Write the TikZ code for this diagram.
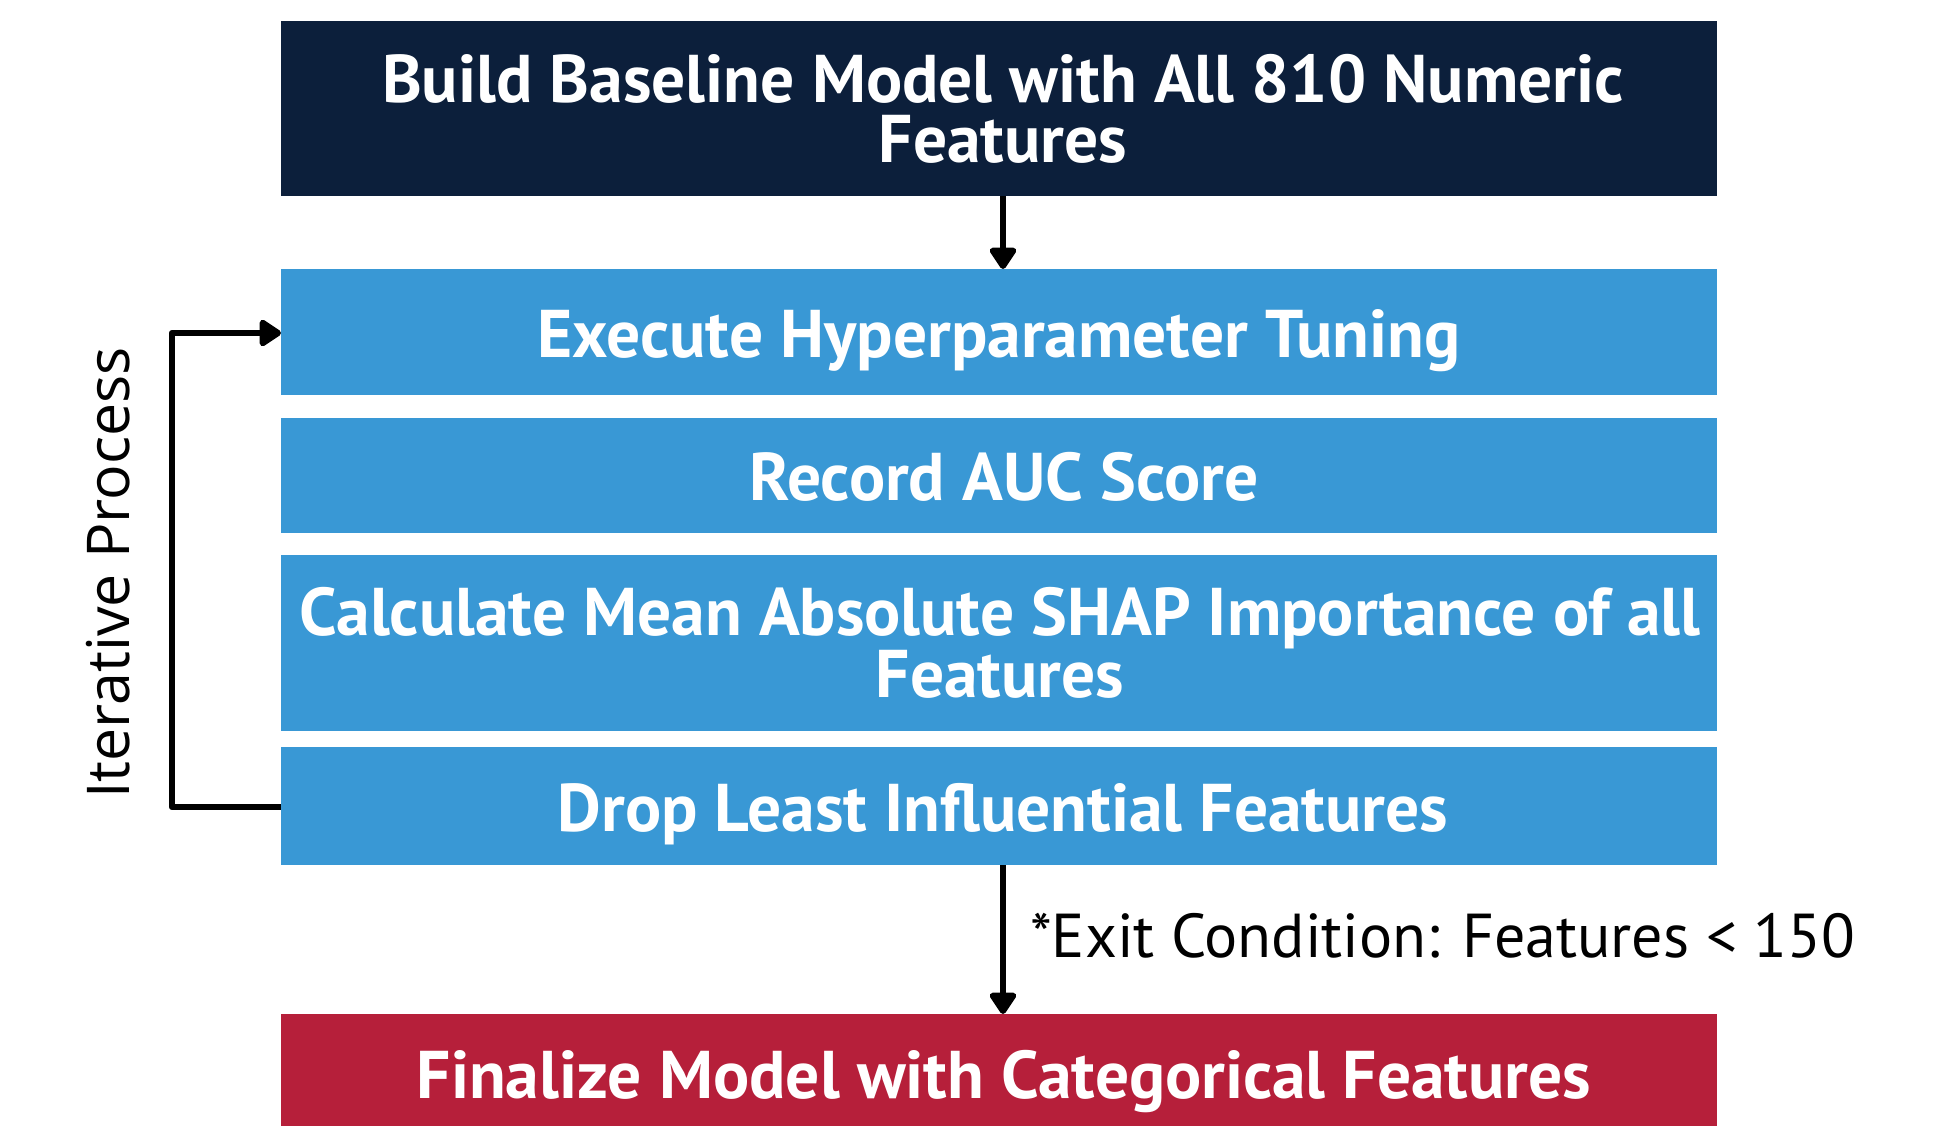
\documentclass[tikz,border=0pt]{standalone}
\usepackage{fontspec}
\setmainfont{PT Sans}
\newfontfamily\labelfont{Open Sans}
\usetikzlibrary{arrows.meta}

\definecolor{navy}{RGB}{12,31,59}
\definecolor{stepblue}{RGB}{57,152,213}
\definecolor{finalred}{RGB}{182,31,58}

\tikzset{
  stepbox/.style={fill=#1, draw=none, inner sep=0pt},
  boxtext/.style={text=white, align=center, anchor=base, inner sep=0pt,
    font=\bfseries\fontsize{67.5}{60}\selectfont},
  flow/.style={line width=6.5pt, line join=round, -{Triangle[length=24pt,width=30pt,round]}},
}

\begin{document}
\begin{tikzpicture}[x=1pt,y=-1pt]
  \useasboundingbox (0,0) rectangle (1947,1126);

  % process boxes
  \path[stepbox=navy]      (281,21)   rectangle (1717,196);
  \path[stepbox=stepblue]  (281,269)  rectangle (1717,395);
  \path[stepbox=stepblue]  (281,418)  rectangle (1717,533);
  \path[stepbox=stepblue]  (281,555)  rectangle (1717,731);
  \path[stepbox=stepblue]  (281,747)  rectangle (1717,865);
  \path[stepbox=finalred]  (281,1014) rectangle (1717,1140);

  % anchors on the box edges
  \coordinate (b1s) at (1003,196);
  \coordinate (b2n) at (1003,269);
  \coordinate (b2w) at (281,333);
  \coordinate (b5w) at (281,807);
  \coordinate (b5s) at (1003,865);
  \coordinate (b6n) at (1003,1014);
  \coordinate (loopTop) at (172,333);
  \coordinate (loopBot) at (172,807);

  % box labels (base anchor sits on the last line's baseline)
  \node[boxtext] (t1) at (1003,163)  {Build Baseline Model with All 810 Numeric\\Features};
  \node[boxtext] (t2) at (999,357)   {Execute Hyperparameter Tuning};
  \node[boxtext] (t3) at (1004,500)  {Record AUC Score};
  \node[boxtext] (t4) at (1000,697)  {Calculate Mean Absolute SHAP Importance of all\\Features};
  \node[boxtext] (t5) at (1003,831)  {Drop Least Influential Features};
  \node[boxtext] (t6) at (1004,1098) {Finalize Model with Categorical Features};

  % connectors
  \draw[flow] (b1s) -- (b2n);
  \draw[flow] (b5s) -- (b6n);
  \draw[flow] (b5w) -- (loopBot) -- (loopTop) -- (b2w);

  % side and exit labels
  \node[rotate=90, font=\labelfont\fontsize{59}{60}\selectfont] (iter) at (108,573) {Iterative Process};
  \node[anchor=base west, inner sep=0pt, font=\fontsize{62}{60}\selectfont] (exitc) at (1030,957) {*Exit Condition: Features < 150};
\end{tikzpicture}
\end{document}
